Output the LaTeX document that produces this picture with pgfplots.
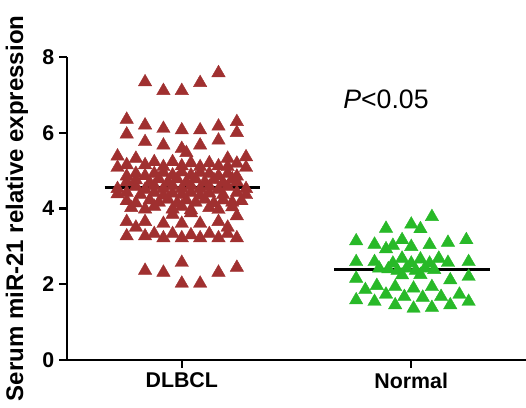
\documentclass[border=0pt]{standalone}
\usepackage{pgfplots}
\pgfplotsset{compat=1.18}
\usepackage{fontspec}
\setmainfont{Liberation Sans}
\definecolor{dlbcl}{RGB}{160,48,48}
\definecolor{normalc}{RGB}{40,185,40}

\pgfplotstableread{
x y
1.16 7.58
0.84 7.34
1.08 7.32
0.92 7.11
1.00 7.11
0.76 6.35
1.24 6.29
0.84 6.20
0.92 6.11
1.00 6.07
1.08 6.07
1.16 6.17
0.76 5.96
1.24 6.00
0.84 5.76
1.16 5.80
0.92 5.67
1.08 5.67
1.00 5.58
1.02 5.47
0.72 5.38
0.80 5.32
1.20 5.32
1.28 5.36
0.72 5.08
0.76 5.15
0.84 5.15
0.88 5.23
0.92 5.10
0.96 5.23
1.00 5.12
1.04 5.20
1.08 5.10
1.12 5.20
1.16 5.12
1.20 5.10
1.24 5.19
1.28 5.08
0.80 4.92
0.88 4.92
1.12 4.92
1.20 4.92
0.76 4.85
0.84 4.86
0.92 4.95
0.96 4.88
1.00 4.96
1.04 4.88
1.08 4.95
1.16 4.86
1.24 4.85
0.76 4.70
1.24 4.70
0.80 4.75
0.86 4.68
0.90 4.78
0.94 4.70
0.98 4.78
1.02 4.70
1.06 4.78
1.10 4.70
1.14 4.76
1.18 4.68
1.22 4.78
0.72 4.52
0.80 4.58
0.84 4.50
0.88 4.60
0.92 4.52
0.96 4.60
1.00 4.52
1.04 4.60
1.08 4.52
1.12 4.58
1.16 4.50
1.20 4.58
1.28 4.52
0.72 4.38
0.76 4.42
0.82 4.36
0.88 4.42
0.92 4.34
0.96 4.40
1.00 4.36
1.04 4.42
1.08 4.34
1.12 4.40
1.18 4.36
1.24 4.42
1.28 4.36
0.76 4.20
0.80 4.14
0.86 4.22
0.90 4.16
0.94 4.24
0.98 4.14
1.02 4.22
1.06 4.16
1.10 4.24
1.14 4.14
1.18 4.22
1.22 4.16
1.26 4.20
0.78 4.02
0.84 3.98
0.88 4.05
0.96 3.98
1.00 4.05
1.04 3.96
1.12 4.02
1.16 3.97
1.22 4.04
0.96 3.84
1.04 3.88
1.24 3.80
0.76 3.65
0.84 3.65
0.92 3.60
1.00 3.60
1.08 3.60
1.16 3.65
0.80 3.50
1.20 3.50
0.76 3.27
0.84 3.27
0.88 3.33
0.92 3.22
0.96 3.33
1.00 3.22
1.04 3.30
1.08 3.22
1.12 3.33
1.16 3.22
1.20 3.33
1.24 3.22
0.84 2.36
0.92 2.31
1.00 2.57
1.16 2.31
1.24 2.44
1.00 2.02
1.08 2.02
}\dlbcldata

\pgfplotstableread{
x y
2.09 3.78
2.00 3.58
2.04 3.46
1.89 3.47
1.76 3.14
1.84 3.05
1.96 3.17
1.92 3.02
2.00 2.99
2.08 3.04
2.16 3.10
2.24 3.17
1.89 2.93
1.76 2.59
1.84 2.59
1.96 2.68
2.04 2.66
2.12 2.68
2.16 2.57
2.25 2.59
1.92 2.55
2.00 2.55
2.08 2.55
1.86 2.42
1.90 2.40
1.94 2.36
1.98 2.42
2.02 2.36
2.06 2.42
2.10 2.38
1.76 2.15
1.96 2.24
2.04 2.25
2.17 2.11
2.25 2.20
1.80 1.85
1.85 1.96
1.89 1.73
1.93 1.93
1.97 1.67
2.01 1.89
2.05 1.65
2.09 1.93
2.13 1.67
2.21 1.73
2.25 1.54
1.76 1.58
1.84 1.54
1.93 1.45
2.01 1.36
2.09 1.38
2.17 1.45
}\normaldata

\begin{document}
\begin{tikzpicture}
\begin{axis}[
  scale only axis, width=344pt, height=227pt,
  xmin=0.5, xmax=2.5, ymin=0, ymax=8,
  axis lines=left,
  axis line style={line width=1.8pt, -},
  xtick={1,2}, xticklabels={DLBCL,Normal},
  ytick={0,2,4,6,8},
  tick align=outside, major tick length=6pt,
  tick style={line width=1.8pt, black},
  tick label style={font=\fontsize{16}{16}\selectfont\bfseries},
  /pgf/number format/assume math mode=true,
  ylabel={Serum miR-21 relative expression},
  every axis y label/.style={at={(axis description cs:-0.109,0.5)}, rotate=90, anchor=center,
    font=\fontsize{18}{18}\selectfont\bfseries},
  clip=false,
]
\coordinate (bl) at (rel axis cs:0,0);
\addplot[only marks, mark=triangle*, mark size=5.8pt,
  mark options={fill=dlbcl, draw=dlbcl, line width=0.3pt}] table[x=x, y=y] {\dlbcldata};
\addplot[only marks, mark=triangle*, mark size=5.8pt,
  mark options={fill=normalc, draw=normalc, line width=0.3pt}] table[x=x, y=y] {\normaldata};
% mean lines
\addplot[black, line width=2.4pt] coordinates {(0.664,4.55) (1.341,4.55)};
\addplot[black, line width=2.4pt] coordinates {(1.664,2.39) (2.341,2.39)};
\node at (axis cs:1.89,6.89) {\fontsize{20}{20}\selectfont\textit{P}<0.05};
\end{axis}
\pgfresetboundingbox
\path (bl) ++(-50.25pt,-36pt) rectangle ++(394.25pt,305.75pt);
\end{tikzpicture}
\end{document}
